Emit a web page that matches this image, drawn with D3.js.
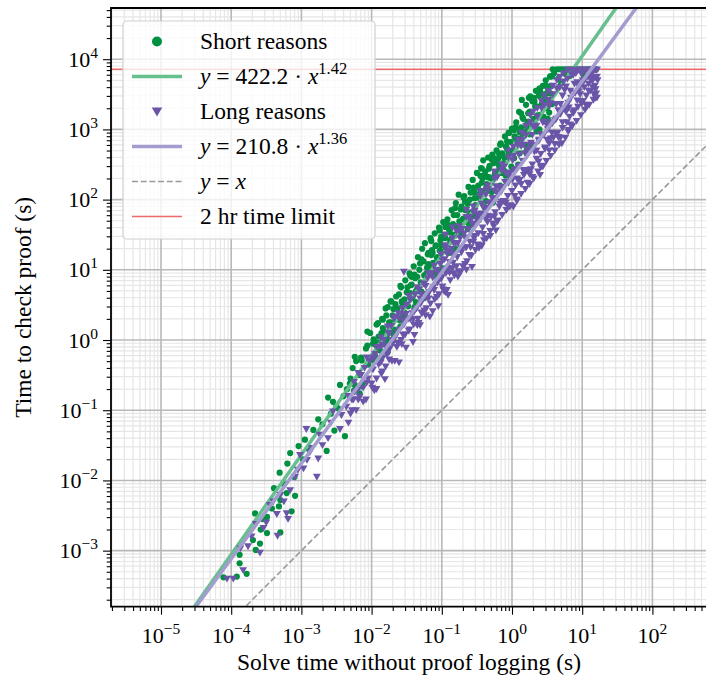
<!DOCTYPE html>
<html>
<head>
<meta charset="utf-8">
<script src="https://cdn.jsdelivr.net/npm/d3@7"></script>
<style>
body { margin: 0; background: #fff; }
svg { display: block; }
text { font-family: "Liberation Serif", "DejaVu Serif", serif; fill: #000; }
</style>
</head>
<body>
<svg id="chart"></svg>
<script>
// points, as [log10 solve time, log10 check time]
const shortPts = [
  [-4.11,-3.38],[-3.92,-3.37],[-3.78,-3.33],[-3.88,-3.18],[-3.88,-3.06],[-3.65,-2.99],[-3.69,-2.85],[-3.59,-2.90],
  [-3.49,-2.75],[-3.30,-2.74],[-3.58,-2.70],[-3.66,-2.47],[-3.49,-2.52],[-3.32,-2.37],[-3.14,-2.44],[-3.09,-2.22],
  [-3.21,-2.18],[-3.39,-2.11],[-3.30,-2.28],[-3.31,-1.89],[-3.20,-1.76],[-3.16,-1.61],[-3.04,-1.51],[-2.95,-1.42],
  [-2.83,-1.28],[-2.76,-1.13],[-2.53,-1.29],[-2.38,-1.37],[-2.64,-1.58],[-2.62,-0.82],[-2.50,-0.94],[-2.45,-0.64],
  [-2.31,-0.62],[-2.17,-0.76],[-3.55,-2.55],[-3.42,-2.40],[-3.25,-2.05],[-3.10,-1.95],[-2.98,-1.70],[-2.90,-1.55],
  [-2.70,-1.20],[-2.58,-1.05],[-2.47,-0.98],[-2.40,-0.80],[-2.55,-0.88],[-2.35,-0.70],
  [-2.30,-0.55],[-2.27,-0.40],[-2.25,-0.72],[-2.22,-0.30],[-2.18,-0.50],[-2.15,-0.25],[-2.12,-0.60],[-2.08,-0.12],
  [-2.05,-0.35],[-2.02,0.10],[-1.98,-0.05],[-1.96,-0.28],[-1.93,0.22],[-1.90,0.05],
  [-1.88,-0.15],[-1.85,0.30],[-1.82,0.12],[-1.80,0.45],[-1.78,-0.02],[-1.75,0.25],[-1.72,0.55],[-1.70,0.35],
  [-1.68,0.15],[-1.65,0.62],[-1.63,0.45],[-1.60,0.28],[-1.58,0.75],[-1.56,0.52],[-1.54,0.38],[-1.52,0.85],
  [-1.50,0.68],[-1.48,0.48],
  [-1.46,0.95],[-1.44,0.78],[-1.42,0.60],[-1.40,1.05],[-1.38,0.88],[-1.36,0.70],[-1.34,1.18],[-1.32,1.00],
  [-1.30,0.82],[-1.28,1.30],[-1.26,1.12],[-1.24,1.38],[-1.22,0.95],[-1.20,1.22],[-1.18,1.05],[-1.16,1.45],
  [-1.14,1.28],[-1.12,1.10],[-1.10,1.52],[-1.08,1.35],[-1.06,1.18],[-1.04,1.60],[-1.02,1.42],[-1.00,1.25],
  [-0.98,1.68],[-0.96,1.50],[-0.94,1.32],[-0.92,1.72],[-0.90,1.58],[-0.88,1.40],[-0.86,1.85],[-0.84,1.65],
  [-0.82,1.48],[-0.80,1.95],[-0.78,1.78],[-0.76,2.07],[-0.74,1.60],[-0.72,1.90],[-0.70,1.72],[-0.68,2.05],
  [-0.66,1.85],[-0.64,1.68],[-0.62,2.18],[-0.60,2.00],[-0.58,1.82],[-0.56,2.28],[-0.54,2.10],[-0.52,1.92],
  [-0.50,2.38],
  [-0.48,2.20],[-0.46,2.02],[-0.44,2.45],[-0.42,2.30],[-0.41,2.56],[-0.40,2.12],[-0.38,2.40],[-0.36,2.22],
  [-0.34,2.60],[-0.32,2.48],[-0.30,2.30],[-0.28,2.64],[-0.26,2.52],[-0.24,2.38],[-0.22,2.70],[-0.20,2.58],
  [-0.18,2.45],[-0.16,2.80],[-0.14,2.66],[-0.12,2.52],[-0.10,2.90],[-0.08,2.75],[-0.06,2.60],[-0.04,2.95],
  [-0.02,2.82],[0.00,3.01],
  [0.02,2.70],[0.04,2.90],[0.06,3.10],[0.08,2.80],[0.10,3.25],[0.12,3.00],[0.14,3.42],[0.16,3.15],
  [0.18,2.95],[0.20,3.35],[0.22,3.10],[0.24,3.45],[0.26,3.47],[0.28,3.25],[0.30,3.05],[0.32,3.40],
  [0.34,3.55],[0.36,3.20],[0.38,3.48],[0.40,3.58],[0.42,3.35],[0.44,3.62],[0.46,3.45],[0.48,3.70],
  [0.50,3.30],[0.52,3.55],[0.54,3.75],[0.56,3.62],[0.58,3.857],[0.60,3.80],
  [0.64,3.857],[0.68,3.857],[0.72,3.857],[0.76,3.857],[0.80,3.857],[0.84,3.857],[0.88,3.857],[0.92,3.857],
  [0.96,3.857],[1.00,3.857],[1.05,3.857],[1.10,3.857],[1.15,3.857],[1.20,3.857],[0.66,3.72],[0.74,3.80],
  [0.82,3.76],[0.90,3.82],[1.02,3.78],[1.12,3.80],[0.70,3.65],
  [-1.97,0.01],[-1.97,-0.29],[-1.91,-0.04],[-1.91,0.24],[-1.86,-0.24],[-1.86,0.10],[-1.79,0.35],[-1.79,0.03],
  [-1.73,0.25],[-1.73,0.55],[-1.69,0.08],[-1.69,0.44],[-1.61,0.65],[-1.61,0.34],[-1.57,0.32],[-1.57,0.55],
  [-1.49,0.75],[-1.49,0.31],[-1.45,0.67],[-1.45,0.92],[-1.39,0.47],[-1.39,0.93],[-1.35,0.73],[-1.35,0.90],
  [-1.29,1.15],[-1.29,0.69],[-1.25,0.60],[-1.25,0.92],[-1.19,1.08],[-1.19,1.24],[-1.13,0.99],[-1.13,1.24],
  [-1.09,1.34],[-1.09,0.92],[-1.03,1.27],[-1.03,1.56],[-0.99,1.02],[-0.99,1.26],[-0.95,1.61],[-0.95,1.45],
  [-0.89,1.54],[-0.89,1.24],[-0.83,1.50],[-0.83,1.78],[-0.79,1.28],[-0.79,1.62],[-0.73,1.86],[-0.73,1.54],
  [-0.69,1.73],[-0.69,2.03],[-0.63,1.58],[-0.63,1.94],[-0.59,2.10],[-0.59,1.79],[-0.53,1.79],[-0.53,2.02],
  [-0.49,2.17],[-0.49,1.73],[-0.45,2.09],[-0.45,2.34],[-0.39,1.89],[-0.39,2.35],[-0.35,2.15],[-0.35,2.32],
  [-0.29,2.57],[-0.29,2.11],[-0.25,2.02],[-0.25,2.34],[-0.19,2.50],[-0.19,2.66],[-0.15,2.38],[-0.15,2.63],
  [-0.09,2.76],[-0.09,2.34],[-0.05,2.66],[-0.05,2.95],[0.01,2.44],[0.01,2.68],[0.05,3.03],[0.05,2.87],
  [0.11,2.96],[0.11,2.66],[0.15,2.89],[0.15,3.17],[0.21,2.70],[0.21,3.04],[0.25,3.25],[0.25,2.93],
  [0.31,3.15],[0.31,3.45],[0.35,2.97],[0.35,3.33],[0.41,3.52],[0.41,3.21],[0.45,3.18],[0.45,3.41],
  [0.51,3.59],[0.51,3.15],[0.55,3.51],[0.55,3.76],
  [-2.24,-0.24],[-2.24,-0.64],[-2.14,-0.29],[-2.14,-0.66],[-2.06,-0.08],[-2.06,0.12],[-1.94,-0.25],[-1.94,-0.07],
  [-1.84,0.29],[-1.84,0.17],[-1.77,-0.17],[-1.77,0.47],[-1.66,0.31],[-1.66,0.51],[-1.59,0.77],[-1.59,0.19],
  [-1.53,0.39],[-1.53,0.58],[-1.43,0.79],[-1.43,0.90],[-1.37,0.54],[-1.37,0.69],[-1.31,1.09],[-1.31,0.69],
  [-1.21,1.03],[-1.21,0.66],[-1.15,1.21],[-1.15,1.41],[-1.07,0.99],[-1.07,1.17],[-1.01,1.47],[-1.01,1.35],
  [-0.93,1.03],[-0.93,1.67],[-0.87,1.43],[-0.87,1.63],[-0.81,1.88],[-0.81,1.30],[-0.75,1.50],[-0.75,1.69],
  [-0.67,1.86],[-0.67,1.97],[-0.61,1.62],[-0.61,1.77],[-0.55,2.17],[-0.55,1.77],[-0.47,2.08],[-0.47,1.71],
  [-0.43,2.24],[-0.43,2.44],[-0.37,1.98],[-0.37,2.16],[-0.33,2.44],[-0.33,2.32],[-0.27,1.96],[-0.27,2.60],
  [-0.21,2.37],[-0.21,2.57],[-0.17,2.78],[-0.17,2.20],[-0.11,2.41],[-0.11,2.60],[-0.07,2.72],[-0.07,2.83],
  [-0.01,2.47],[-0.01,2.62],[0.03,2.99],[0.03,2.59],[0.09,2.87],[0.09,2.50],[0.13,3.03],[0.13,3.23],
  [0.19,2.78],[0.19,2.96],[0.23,3.23],[0.23,3.11],[0.29,2.76],[0.29,3.40],[0.33,3.13],[0.33,3.33],
  [0.39,3.58],[0.39,3.00],[0.43,3.18],[0.43,3.37],[0.49,3.51],[0.49,3.62],[0.53,3.24],[0.53,3.39],
  [0.57,3.755],[0.57,3.36]
];

const longPts = [
  [-4.06,-3.40],[-3.97,-3.40],[-3.83,-3.28],[-3.87,-2.97],[-3.76,-2.94],[-3.59,-3.03],[-3.71,-2.80],[-3.54,-2.68],
  [-3.34,-2.79],[-3.45,-2.35],[-3.35,-2.48],[-3.21,-2.47],[-3.30,-2.21],[-3.16,-2.14],[-3.09,-1.95],[-2.97,-1.83],
  [-2.78,-1.95],[-3.02,-1.64],[-2.92,-1.71],[-2.76,-1.69],[-2.85,-1.54],[-2.74,-1.35],[-2.62,-1.40],[-2.93,-1.27],
  [-2.45,-1.27],[-2.55,-1.02],[-2.43,-1.07],[-2.28,-1.00],[-2.26,-0.85],[-2.12,-0.88],[-2.24,-0.74],
  [-3.65,-2.62],[-3.50,-2.60],[-3.40,-2.30],[-3.25,-2.30],[-3.05,-1.85],[-2.88,-1.60],[-2.70,-1.50],[-2.58,-1.18],
  [-2.36,-0.95],[-2.30,-1.05],[-3.19,-2.55],
  [-2.28,-0.85],[-2.25,-0.60],[-2.22,-1.00],[-2.20,-0.72],[-2.17,-0.81],[-2.15,-0.50],[-2.12,-0.68],[-2.10,-0.40],
  [-2.08,-0.85],[-2.05,-0.55],[-2.03,-0.30],[-2.00,-0.62],[-1.98,-0.42],[-1.95,-0.20],[-1.93,-0.55],[-1.90,-0.35],
  [-1.88,-0.10],[-1.86,-0.48],[-1.84,-0.25],[-1.82,0.00],[-1.80,-0.38],[-1.78,-0.21],[-1.76,0.10],[-1.74,-0.12],
  [-1.72,0.20],[-1.70,-0.05],[-1.68,0.30],[-1.66,0.05],[-1.64,-0.10],[-1.62,0.38],[-1.60,0.15],[-1.58,0.00],
  [-1.56,0.45],[-1.54,0.97],[-1.54,0.22],[-1.52,0.08],[-1.50,0.50],[-1.48,0.30],[-1.46,0.15],[-1.44,0.58],
  [-1.42,0.38],[-1.40,0.22],[-1.38,0.65],[-1.36,0.45],[-1.34,0.30],[-1.33,0.24],[-1.32,0.72],[-1.30,0.52],
  [-1.28,0.38],[-1.26,0.80],[-1.24,0.60],[-1.22,0.45],[-1.20,0.88],[-1.18,0.68],[-1.16,0.52],[-1.14,0.95],
  [-1.12,0.75],[-1.10,0.58],[-1.08,1.00],[-1.06,0.82],[-1.04,0.65],[-1.02,1.08],[-1.00,0.90],[-0.98,0.72],
  [-0.96,1.15],[-0.94,0.95],[-0.93,0.71],[-0.92,1.22],[-0.90,1.02],[-0.88,0.85],[-0.86,1.30],[-0.84,1.10],
  [-0.82,0.92],[-0.80,1.38],[-0.78,1.18],[-0.76,0.98],[-0.74,1.45],[-0.72,1.25],[-0.70,1.05],[-0.68,1.52],
  [-0.66,1.32],[-0.64,1.12],[-0.62,1.58],[-0.60,1.40],[-0.58,1.20],[-0.57,1.04],[-0.56,1.65],[-0.54,1.45],
  [-0.52,1.28],[-0.50,1.72],[-0.48,1.52],[-0.46,1.35],
  [-0.44,1.80],[-0.42,1.60],[-0.40,1.42],[-0.38,1.88],[-0.36,1.45],[-0.35,1.68],[-0.33,1.95],[-0.31,1.55],
  [-0.30,1.75],[-0.28,2.02],[-0.26,1.62],[-0.24,1.82],[-0.22,2.10],[-0.20,1.70],[-0.18,1.90],[-0.16,2.18],
  [-0.14,1.78],[-0.12,1.98],[-0.10,2.25],[-0.08,1.85],[-0.06,2.05],[-0.04,2.32],[-0.02,1.92],[0.00,2.12],
  [0.02,1.90],[0.03,2.40],[0.05,2.20],[0.07,2.00],[0.09,2.48],[0.11,2.28],[0.13,2.08],[0.15,2.55],
  [0.17,2.35],[0.19,2.15],[0.21,2.62],[0.23,2.42],[0.25,2.22],[0.27,2.70],[0.29,2.50],[0.31,2.30],
  [0.33,2.78],[0.35,2.58],[0.37,2.40],[0.40,2.35],[0.39,2.85],[0.41,2.65],[0.43,2.48],[0.45,2.92],
  [0.47,2.72],[0.49,2.55],[0.51,3.00],[0.53,2.80],[0.55,2.62],[0.57,3.08],[0.59,2.88],
  [0.61,2.70],[0.63,3.15],[0.65,2.95],[0.67,2.78],[0.69,3.22],[0.71,2.80],[0.72,3.02],[0.74,3.30],
  [0.76,2.88],[0.78,3.10],[0.80,2.97],[0.80,3.38],[0.82,3.18],[0.84,3.45],[0.86,3.05],[0.88,3.25],
  [0.90,3.52],[0.92,3.12],[0.94,3.32],[0.96,3.60],[0.98,3.20],[1.00,3.40],[1.02,3.68],[1.04,3.28],
  [1.06,3.48],[1.08,3.75],[1.10,3.35],[1.12,3.55],[1.14,3.80],[1.16,3.42],[1.18,3.62],[1.20,3.51],
  [1.22,3.70],[1.20,3.85],[1.21,3.45],
  [-1.99,-0.68],[-1.99,-0.26],[-1.93,-0.10],[-1.93,-0.70],[-1.87,-0.32],[-1.87,0.03],[-1.81,-0.56],[-1.81,-0.09],
  [-1.75,0.09],[-1.75,-0.28],[-1.67,-0.30],[-1.67,0.33],[-1.63,0.11],[-1.63,-0.04],[-1.57,-0.06],[-1.57,0.37],
  [-1.51,0.37],[-1.51,-0.11],[-1.45,0.30],[-1.45,0.57],[-1.41,-0.03],[-1.41,0.29],[-1.35,0.75],[-1.35,0.21],
  [-1.29,0.39],[-1.29,0.65],[-1.23,0.35],[-1.23,0.77],[-1.17,0.93],[-1.17,0.33],[-1.11,0.71],[-1.11,1.06],
  [-1.05,0.48],[-1.05,0.95],[-0.99,1.13],[-0.99,0.76],[-0.95,0.68],[-0.95,1.31],[-0.89,1.11],[-0.89,0.96],
  [-0.83,0.95],[-0.83,1.38],[-0.77,1.38],[-0.77,0.90],[-0.71,1.31],[-0.71,1.58],[-0.65,1.00],[-0.65,1.32],
  [-0.61,1.75],[-0.61,1.21],[-0.55,1.40],[-0.55,1.66],[-0.49,1.36],[-0.49,1.78],[-0.43,1.94],[-0.43,1.34],
  [-0.37,1.72],[-0.37,2.07],[-0.31,1.48],[-0.31,1.95],[-0.25,2.13],[-0.25,1.76],[-0.21,1.69],[-0.21,2.32],
  [-0.15,2.12],[-0.15,1.97],[-0.09,1.95],[-0.09,2.38],[-0.03,2.38],[-0.03,1.90],[0.01,2.29],[0.01,2.56],
  [0.07,1.98],[0.07,2.30],[0.13,2.76],[0.13,2.22],[0.19,2.40],[0.19,2.66],[0.25,2.36],[0.25,2.78],
  [0.29,2.92],[0.29,2.32],[0.35,2.70],[0.35,3.05],[0.41,2.46],[0.41,2.93],[0.47,3.11],[0.47,2.74],
  [0.53,2.70],[0.53,3.33],[0.57,3.10],[0.57,2.95],[0.63,2.93],[0.63,3.36],[0.69,3.36],[0.69,2.88],
  [0.75,3.29],[0.75,3.56],[0.81,2.99],[0.81,3.31],[0.87,3.77],[0.87,3.23],[0.93,3.41],[0.93,3.67],
  [0.99,3.37],[0.99,3.79],[1.05,3.85],[1.05,3.35],[1.11,3.73],[1.11,3.85],[1.17,3.50],[1.17,3.85],
  [1.21,3.85],[1.21,3.75],
  [-2.33,-0.80],[-2.33,-1.18],[-2.19,-0.85],[-2.19,-0.47],[-2.07,-0.25],[-2.07,-0.61],[-1.96,-0.72],[-1.96,-0.24],
  [-1.85,-0.07],[-1.85,-0.45],[-1.77,-0.16],[-1.77,0.19],[-1.71,-0.30],[-1.71,0.00],[-1.61,0.31],[-1.61,-0.32],
  [-1.55,0.07],[-1.55,0.28],[-1.47,0.63],[-1.47,0.13],[-1.39,0.41],[-1.39,0.07],[-1.31,0.59],[-1.31,0.21],
  [-1.25,0.42],[-1.25,0.80],[-1.19,0.95],[-1.19,0.59],[-1.13,0.41],[-1.13,0.89],[-1.07,0.99],[-1.07,0.61],
  [-1.01,0.87],[-1.01,1.22],[-0.97,0.70],[-0.97,1.00],[-0.91,1.27],[-0.91,0.64],[-0.85,1.02],[-0.85,1.23],
  [-0.79,1.55],[-0.79,1.05],[-0.73,1.31],[-0.73,0.97],[-0.67,1.46],[-0.67,1.08],[-0.59,1.32],[-0.59,1.70],
  [-0.53,1.84],[-0.53,1.48],[-0.47,1.31],[-0.47,1.79],[-0.41,1.89],[-0.41,1.51],[-0.35,1.77],[-0.35,2.12],
  [-0.27,1.66],[-0.27,1.96],[-0.23,2.19],[-0.23,1.56],[-0.17,1.94],[-0.17,2.15],[-0.11,2.47],[-0.11,1.97],
  [-0.05,2.24],[-0.05,1.90],[0.04,2.43],[0.04,2.05],[0.10,2.26],[0.10,2.64],[0.16,2.78],[0.16,2.42],
  [0.22,2.24],[0.22,2.72],[0.27,2.81],[0.27,2.43],[0.32,2.68],[0.32,3.03],[0.38,2.54],[0.38,2.84],
  [0.44,3.10],[0.44,2.47],[0.50,2.85],[0.50,3.06],[0.55,3.37],[0.55,2.87],[0.61,3.13],[0.61,2.79],
  [0.66,3.27],[0.66,2.89],[0.72,3.10],[0.72,3.48],[0.77,3.61],[0.77,3.25],[0.83,3.07],[0.83,3.55],
  [0.89,3.65],[0.89,3.27],[0.95,3.54],[0.95,3.85],[1.01,3.40],[1.01,3.70],[1.07,3.85],[1.07,3.33],
  [1.13,3.71],[1.13,3.85],[1.19,3.85],[1.19,3.74],
  [-0.95,1.35],[-0.95,1.50],[-0.85,1.45],[-0.85,1.60],[-0.75,1.62],[-0.75,1.55],[-0.65,1.75],[-0.65,1.85],
  [-0.55,1.90],[-0.55,1.82],[-0.45,2.05],[-0.45,2.12],[-0.35,2.20],[-0.35,2.15],[-0.25,2.30],[-0.25,2.40],
  [-0.15,2.50],[-0.15,2.42],[-0.05,2.60],[-0.05,2.70],[0.02,2.75],[0.02,2.62],[0.08,2.85],[0.08,2.78],
  [0.14,2.95],[0.14,2.85],[0.20,3.05],[0.20,2.92],[0.26,3.10],[0.26,3.20],[0.30,3.05],[0.30,3.25],
  [0.36,3.30],[0.36,3.18],[0.42,3.40],[0.42,3.30],[0.46,3.48],[0.46,3.35],[0.52,3.55],[0.52,3.42],
  [0.58,3.62],[0.58,3.50],[0.64,3.70],[0.64,3.58],[0.68,3.75],[0.68,3.60],[0.73,3.80],[0.73,3.68],
  [0.79,3.85],[0.79,3.72],[0.85,3.85],[0.85,3.78],[0.91,3.85],[0.91,3.80],[0.97,3.85],[0.97,3.50],
  [1.03,3.60],[1.03,3.85],[1.09,3.55],[1.09,3.65],[1.15,3.60],[1.15,3.70],[1.19,3.45],[1.19,3.57]
];

const shortFit = { a: 422.2, b: 1.42 };
const longFit = { a: 210.8, b: 1.36 };
const timeLimit = 7200;

const xTickExps = [-5, -4, -3, -2, -1, 0, 1, 2];
const yTickExps = [-3, -2, -1, 0, 1, 2, 3, 4];

const W = 706, H = 679;
const pL = 111, pR = 706, pT = 8, pB = 606.7;

const svg = d3.select("#chart").attr("width", W).attr("height", H);

const x = d3.scaleLog().domain([1.94e-6, 580]).range([pL, pR]);
const y = d3.scaleLog().domain([1.59e-4, 5.36e4]).range([pB, pT]);

const toData = p => ({ x: Math.pow(10, p[0]), y: Math.pow(10, p[1]) });
const shortData = shortPts.map(toData);
const longData = longPts.map(toData);

// minor tick locations (2..9 times each decade) inside the domain
function minors(scale) {
  const [d0, d1] = scale.domain();
  const out = [];
  for (let e = Math.floor(Math.log10(d0)); e <= Math.ceil(Math.log10(d1)); e++) {
    for (let m = 2; m <= 9; m++) {
      const v = m * Math.pow(10, e);
      if (v >= d0 && v <= d1) out.push(v);
    }
  }
  return out;
}
const xMinor = minors(x), yMinor = minors(y);
const xMajor = d3.range(-6, 4).map(e => Math.pow(10, e)).filter(v => v >= x.domain()[0] && v <= x.domain()[1]);
const yMajor = d3.range(-4, 6).map(e => Math.pow(10, e)).filter(v => v >= y.domain()[0] && v <= y.domain()[1]);

svg.append("defs").append("clipPath").attr("id", "plot")
  .append("rect").attr("x", pL).attr("y", pT).attr("width", pR - pL).attr("height", pB - pT);

// grid
const grid = svg.append("g");
grid.selectAll(".gxm").data(xMinor).join("line")
  .attr("x1", d => x(d)).attr("x2", d => x(d)).attr("y1", pT).attr("y2", pB)
  .attr("stroke", "#e6e6e6").attr("stroke-width", 1.2);
grid.selectAll(".gym").data(yMinor).join("line")
  .attr("y1", d => y(d)).attr("y2", d => y(d)).attr("x1", pL).attr("x2", pR)
  .attr("stroke", "#e6e6e6").attr("stroke-width", 1.2);
grid.selectAll(".gxM").data(xMajor).join("line")
  .attr("x1", d => x(d)).attr("x2", d => x(d)).attr("y1", pT).attr("y2", pB)
  .attr("stroke", "#b8b8b8").attr("stroke-width", 1.6);
grid.selectAll(".gyM").data(yMajor).join("line")
  .attr("y1", d => y(d)).attr("y2", d => y(d)).attr("x1", pL).attr("x2", pR)
  .attr("stroke", "#b8b8b8").attr("stroke-width", 1.6);

const plot = svg.append("g").attr("clip-path", "url(#plot)");

const xs = x.domain();
const fitLine = f => d3.line().x(d => x(d)).y(d => y(f.a * Math.pow(d, f.b)))(xs);

// time limit
plot.append("line").attr("x1", pL).attr("x2", pR)
  .attr("y1", y(timeLimit)).attr("y2", y(timeLimit))
  .attr("stroke", "#ef6a6a").attr("stroke-width", 1.5);

// y = x
plot.append("path").attr("d", d3.line().x(d => x(d)).y(d => y(d))(xs))
  .attr("fill", "none").attr("stroke", "#999").attr("stroke-width", 1.6)
  .attr("stroke-dasharray", "6,2.7");

const green = "#00903f", greenFit = "#68bf8e";
const purple = "#6a55a8", purpleFit = "#a29ccf";

plot.append("g").selectAll("circle").data(shortData).join("circle")
  .attr("cx", d => x(d.x)).attr("cy", d => y(d.y)).attr("r", 3.1)
  .attr("fill", green);

plot.append("path").attr("d", fitLine(shortFit))
  .attr("fill", "none").attr("stroke", greenFit).attr("stroke-width", 3.5);

const tri = d3.symbol(d3.symbolTriangle, 27)();
plot.append("g").selectAll("path").data(longData).join("path")
  .attr("d", tri)
  .attr("transform", d => `translate(${x(d.x)},${y(d.y) - 0.8}) rotate(180)`)
  .attr("fill", purple);

plot.append("path").attr("d", fitLine(longFit))
  .attr("fill", "none").attr("stroke", purpleFit).attr("stroke-width", 3.5);

// axes
function styleAxis(g) {
  g.select(".domain").remove();
  g.selectAll(".tick line").attr("stroke", "#000").attr("stroke-width", 1.1);
}
svg.append("g").attr("transform", `translate(0,${pB})`)
  .call(d3.axisBottom(x).tickValues(xMinor).tickSize(4.3).tickFormat("")).call(styleAxis);
svg.append("g").attr("transform", `translate(0,${pB})`)
  .call(d3.axisBottom(x).tickValues(xMajor).tickSize(8).tickFormat("")).call(styleAxis);
svg.append("g").attr("transform", `translate(${pL},0)`)
  .call(d3.axisLeft(y).tickValues(yMinor).tickSize(4.3).tickFormat("")).call(styleAxis);
svg.append("g").attr("transform", `translate(${pL},0)`)
  .call(d3.axisLeft(y).tickValues(yMajor).tickSize(8).tickFormat("")).call(styleAxis);

// spines
svg.append("path")
  .attr("d", `M${pR},${pT}H${pL}V${pB}H${pR}`)
  .attr("fill", "none").attr("stroke", "#000").attr("stroke-width", 1.8);

function powLabel(sel, e) {
  sel.append("tspan").text("10");
  sel.append("tspan").attr("dy", -9).attr("font-size", 15.5)
    .text(e < 0 ? "\u2212" + (-e) : String(e));
}

svg.append("g").selectAll("text").data(xTickExps).join("text")
  .attr("x", d => x(Math.pow(10, d))).attr("y", 643)
  .attr("text-anchor", "middle").attr("font-size", 22)
  .each(function(d) { powLabel(d3.select(this), d); });

svg.append("g").selectAll("text").data(yTickExps).join("text")
  .attr("x", 98).attr("y", d => y(Math.pow(10, d)) + 7.5)
  .attr("text-anchor", "end").attr("font-size", 22)
  .each(function(d) { powLabel(d3.select(this), d); });

svg.append("text").attr("x", 409).attr("y", 670)
  .attr("text-anchor", "middle").attr("font-size", 23.5)
  .text("Solve time without proof logging (s)");

svg.append("text")
  .attr("transform", `translate(31,${(pT + pB) / 2}) rotate(-90)`)
  .attr("text-anchor", "middle").attr("font-size", 23.5)
  .text("Time to check proof (s)");

// legend
const legend = svg.append("g");
legend.append("rect").attr("x", 123).attr("y", 21).attr("width", 252).attr("height", 218)
  .attr("rx", 4).attr("fill", "#fff").attr("fill-opacity", 0.8)
  .attr("stroke", "#d0d0d0").attr("stroke-width", 1.2);

const rowY = i => 41.5 + i * 35;
const hx0 = 132, hx1 = 182, hxm = 157, tx = 200;

legend.append("circle").attr("cx", hxm).attr("cy", rowY(0)).attr("r", 5).attr("fill", green);
legend.append("line").attr("x1", hx0).attr("x2", hx1).attr("y1", rowY(1)).attr("y2", rowY(1))
  .attr("stroke", greenFit).attr("stroke-width", 3.5);
legend.append("path").attr("d", d3.symbol(d3.symbolTriangle, 48)())
  .attr("transform", `translate(${hxm},${rowY(2) - 1}) rotate(180)`).attr("fill", purple);
legend.append("line").attr("x1", hx0).attr("x2", hx1).attr("y1", rowY(3)).attr("y2", rowY(3))
  .attr("stroke", purpleFit).attr("stroke-width", 3.5);
legend.append("line").attr("x1", hx0).attr("x2", hx1).attr("y1", rowY(4)).attr("y2", rowY(4))
  .attr("stroke", "#999").attr("stroke-width", 1.6).attr("stroke-dasharray", "6,2.7");
legend.append("line").attr("x1", hx0).attr("x2", hx1).attr("y1", rowY(5)).attr("y2", rowY(5))
  .attr("stroke", "#ef6a6a").attr("stroke-width", 1.5);

function legendText(i) {
  return legend.append("text").attr("x", tx).attr("y", rowY(i) + 7.5).attr("font-size", 23.5);
}
legendText(0).text("Short reasons");
legendText(2).text("Long reasons");
legendText(5).text("2 hr time limit");

function fitText(i, f) {
  const t = legendText(i);
  t.append("tspan").attr("font-style", "italic").text("y");
  t.append("tspan").text(" = " + f.a.toFixed(1) + " \u00b7 ");
  t.append("tspan").attr("font-style", "italic").text("x");
  t.append("tspan").attr("dy", -10).attr("font-size", 16.5).text(f.b.toFixed(2));
}
fitText(1, shortFit);
fitText(3, longFit);

const yx = legendText(4);
yx.append("tspan").attr("font-style", "italic").text("y");
yx.append("tspan").text(" = ");
yx.append("tspan").attr("font-style", "italic").text("x");
</script>
</body>
</html>
